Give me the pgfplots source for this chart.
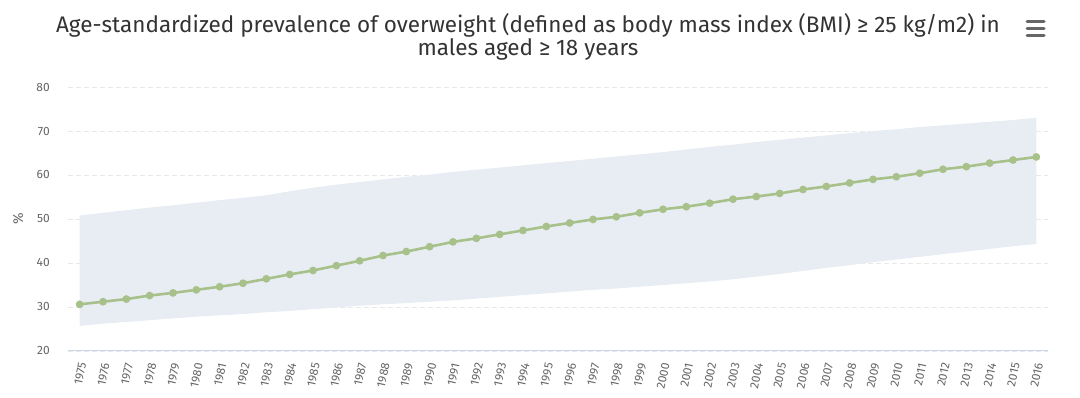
\documentclass[border=0pt]{standalone}
\usepackage{pgfplots}
\usepackage{pgfplotstable}
\pgfplotsset{compat=1.18}
\usepgfplotslibrary{fillbetween}
\usepackage{fontspec}
\setmainfont{Fira Sans}
\definecolor{band}{HTML}{E7EDF3}
\definecolor{linegreen}{HTML}{A8C08A}
\definecolor{gridgray}{HTML}{E8E8E8}
\definecolor{axisblue}{HTML}{CCD6EB}
\definecolor{labelgray}{HTML}{666666}
\definecolor{titlegray}{HTML}{333333}
\pgfplotstableread{
year mean lo hi
1975 30.6 25.7 50.8
1976 31.2 26.2 51.4
1977 31.8 26.6 52.0
1978 32.6 27.0 52.6
1979 33.2 27.4 53.1
1980 33.9 27.8 53.7
1981 34.6 28.1 54.3
1982 35.4 28.4 54.8
1983 36.4 28.8 55.4
1984 37.4 29.1 56.3
1985 38.3 29.5 57.1
1986 39.4 29.9 57.8
1987 40.5 30.3 58.4
1988 41.7 30.6 59.0
1989 42.6 30.9 59.6
1990 43.7 31.2 60.1
1991 44.8 31.5 60.7
1992 45.6 31.9 61.2
1993 46.5 32.3 61.7
1994 47.4 32.7 62.2
1995 48.3 33.1 62.7
1996 49.1 33.5 63.2
1997 49.9 33.9 63.7
1998 50.5 34.2 64.2
1999 51.4 34.6 64.7
2000 52.2 35.0 65.2
2001 52.8 35.4 65.8
2002 53.6 35.8 66.4
2003 54.5 36.3 66.9
2004 55.1 36.9 67.5
2005 55.8 37.5 68.0
2006 56.7 38.2 68.5
2007 57.4 38.9 69.0
2008 58.2 39.5 69.5
2009 59.0 40.2 70.0
2010 59.6 40.8 70.4
2011 60.4 41.4 70.9
2012 61.3 42.0 71.3
2013 61.9 42.6 71.7
2014 62.7 43.2 72.1
2015 63.4 43.8 72.5
2016 64.1 44.3 73.0
}\data
\begin{document}
\begin{tikzpicture}
\path (0,0) rectangle (1080pt,398pt);
\begin{axis}[
  at={(68pt,47pt)}, anchor=south west,
  scale only axis, width=980pt, height=264pt,
  xmin=1974.5, xmax=2016.5, ymin=20, ymax=80,
  xtick={1975,...,2016}, ytick={20,30,...,80},
  /pgf/number format/assume math mode=true,
  /pgf/number format/set thousands separator={},
  separate axis lines,
  axis x line*=bottom, axis y line*=left,
  x axis line style={draw=axisblue, line width=1pt, -},
  y axis line style={draw=none},
  major tick length=0pt,
  ymajorgrids,
  grid style={draw=gridgray, line width=0.8pt, dash pattern=on 5pt off 3pt},
  tick label style={text=labelgray, font=\fontsize{12}{12}\selectfont},
  xticklabel style={yshift=-12pt, xshift=3pt, rotate=78, anchor=east, inner sep=0pt},
  yticklabel style={anchor=east, inner sep=0pt, xshift=-18pt},
  ylabel={\%},
  ylabel style={at={(axis description cs:-0.051,0.5)}, anchor=center, text=labelgray, font=\fontsize{14}{14}\selectfont},
]
\addplot[name path=hi, draw=none, forget plot] table[x=year,y=hi]{\data};
\addplot[name path=lo, draw=none, forget plot] table[x=year,y=lo]{\data};
\addplot[fill=band, draw=none] fill between[of=hi and lo];
\addplot[color=linegreen, line width=2.6pt, mark=*, mark size=2.5pt, mark options={fill=linegreen, draw=none}] table[x=year,y=mean]{\data};
\end{axis}
\node[align=center, text=titlegray, font=\fontsize{22.5}{23}\selectfont] at (528pt,361pt) {Age-standardized prevalence of overweight (defined as body mass index (BMI) ≥ 25 kg/m2) in\\males aged ≥ 18 years};
\foreach \yy in {22,29,36} {\draw[labelgray, line width=3pt, line cap=round] (1027pt,{(398-\yy)*1pt}) -- (1044pt,{(398-\yy)*1pt});}
\end{tikzpicture}
\end{document}
